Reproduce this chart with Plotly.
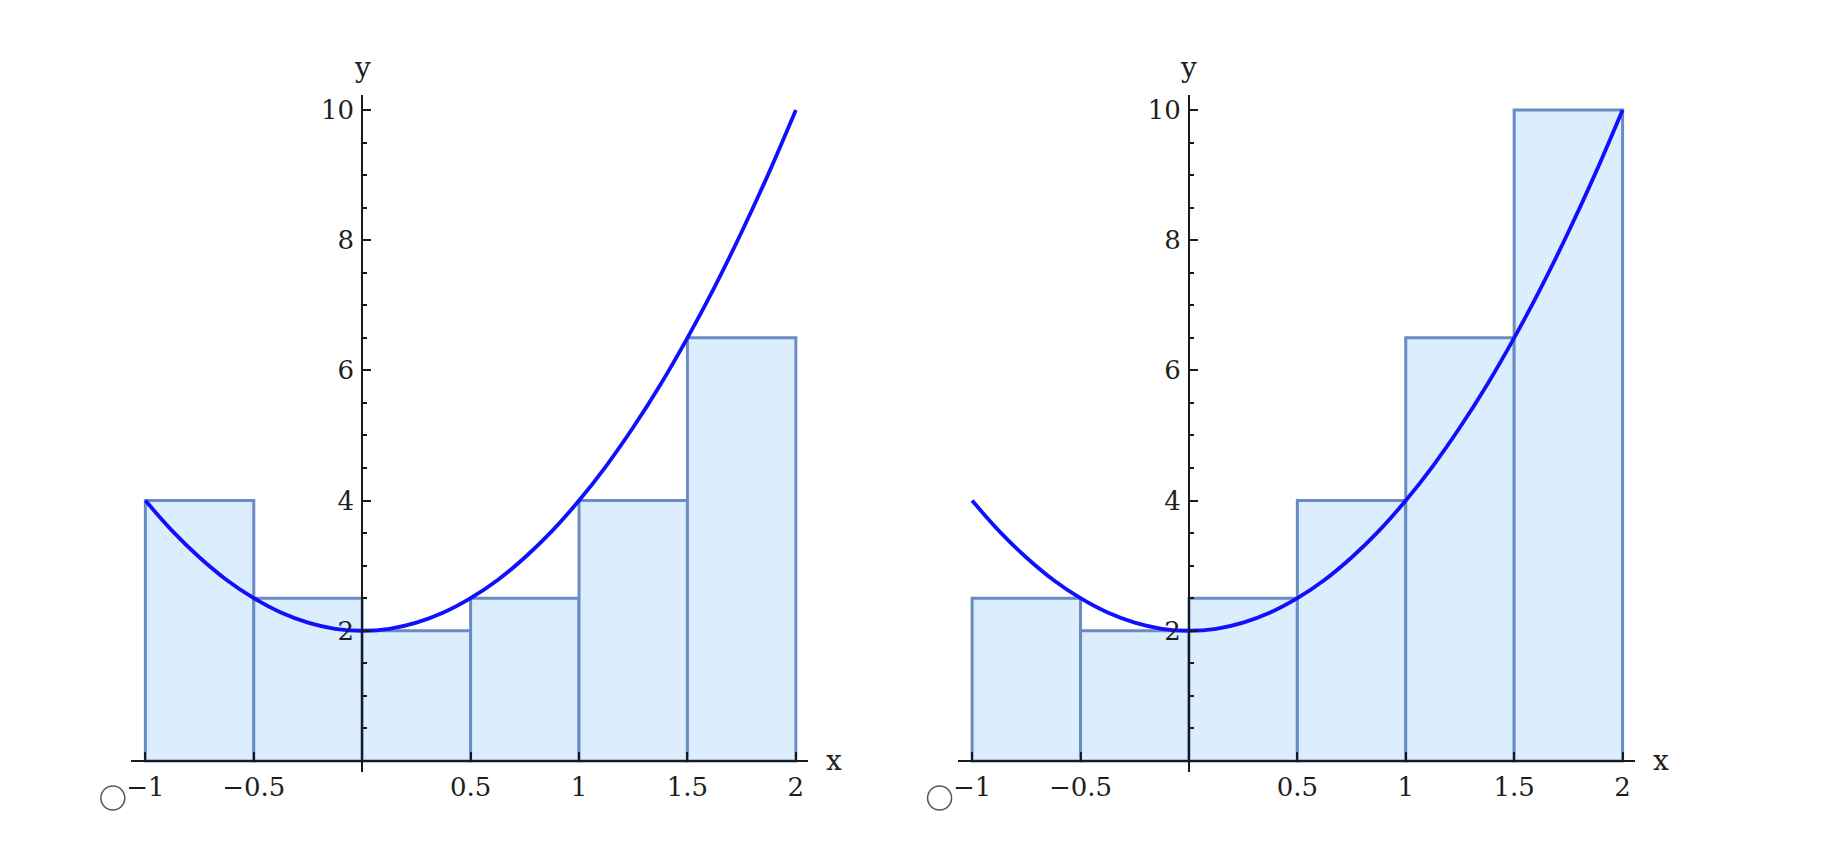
import plotly.graph_objects as go

# ---- data ----
curve_x = [-1, -0.875, -0.75, -0.625, -0.5, -0.375, -0.25, -0.125, 0,
           0.125, 0.25, 0.375, 0.5, 0.625, 0.75, 0.875, 1,
           1.125, 1.25, 1.375, 1.5, 1.625, 1.75, 1.875, 2]
curve_y = [4, 3.53, 3.125, 2.78, 2.5, 2.28, 2.125, 2.03, 2,
           2.03, 2.125, 2.28, 2.5, 2.78, 3.125, 3.53, 4,
           4.53, 5.125, 5.78, 6.5, 7.28, 8.125, 9.03, 10]
bar_left_edges = [-1, -0.5, 0, 0.5, 1, 1.5]
bar_width = 0.5
left_heights = [4, 2.5, 2, 2.5, 4, 6.5]
right_heights = [2.5, 2, 2.5, 4, 6.5, 10]
x_tickvals = [-1, -0.5, 0.5, 1, 1.5, 2]
x_ticktext = ["\u22121", "\u22120.5", "0.5", "1", "1.5", "2"]
y_tickvals = [2, 4, 6, 8, 10]
y_ticktext = ["2", "4", "6", "8", "10"]

# ---- style ----
W, H = 1838, 848
OFFX, OFFY = 12, 9
x_range = [-1.065, 2.058]
y_range = [-0.17, 10.23]
y_dom = [1 - (773 - OFFY) / H, 1 - (96 - OFFY) / H]
x_doms = [[(130.6 - OFFX) / W, (809.6 - OFFX) / W], [(959.6 - OFFX) / W, (1638.6 - OFFX) / W]]
FONT = "DejaVu Serif"
TXT = "#1e1e1e"
AX = "#1a1a1a"
BAR_FILL = "#dcedfd"
BAR_LINE = "#6a8cc2"
CURVE = "#1010ff"

fig = go.Figure()

def pos_in_domain(v, rng, dom):
    return dom[0] + (v - rng[0]) / (rng[1] - rng[0]) * (dom[1] - dom[0])

for i, heights in enumerate([left_heights, right_heights]):
    n = "" if i == 0 else "2"
    xa, ya = "x" + n, "y" + n
    fig.add_trace(go.Bar(x=bar_left_edges, y=heights, width=bar_width, offset=0,
                         marker=dict(color=BAR_FILL, line=dict(color=BAR_LINE, width=3)),
                         xaxis=xa, yaxis=ya, showlegend=False, hoverinfo="skip"))
    fig.add_trace(go.Scatter(x=curve_x, y=curve_y, mode="lines",
                             line=dict(color=CURVE, width=3.8, shape="spline"),
                             xaxis=xa, yaxis=ya, showlegend=False, hoverinfo="skip"))
    xdom = x_doms[i]
    x_axis_pos = pos_in_domain(0, y_range, y_dom)
    y_axis_pos = pos_in_domain(0, x_range, xdom)
    xkey = "xaxis" + n
    ykey = "yaxis" + n
    fig.update_layout(**{
        xkey: dict(domain=xdom, range=x_range, anchor="free", position=x_axis_pos,
                   showline=True, linecolor=AX, linewidth=2, showgrid=False, zeroline=False,
                   ticks="inside", ticklen=8, tickwidth=1.8, tickcolor=AX,
                   tickvals=x_tickvals, ticktext=x_ticktext,
                   tickfont=dict(family=FONT, size=26, color=TXT), ticklabelstandoff=3,
                   fixedrange=True),
        ykey: dict(domain=y_dom, range=y_range, anchor="free", position=y_axis_pos,
                   showline=True, linecolor=AX, linewidth=2, showgrid=False, zeroline=False,
                   ticks="inside", ticklen=8, tickwidth=1.8, tickcolor=AX,
                   tickvals=y_tickvals, ticktext=y_ticktext,
                   minor=dict(dtick=0.5, tick0=0, ticks="inside", ticklen=4, tickwidth=1.5, tickcolor=AX),
                   tickfont=dict(family=FONT, size=26, color=TXT), ticklabelstandoff=2,
                   fixedrange=True),
    })
    fig.add_annotation(text="x", xref=xa + " domain", x=1, yref=ya, y=0,
                       xanchor="left", yanchor="middle", xshift=16, showarrow=False,
                       font=dict(family=FONT, size=28, color=TXT))
    fig.add_annotation(text="y", xref=xa, x=0, yref=ya + " domain", y=1,
                       xanchor="center", yanchor="bottom", yshift=9, showarrow=False,
                       font=dict(family=FONT, size=28, color=TXT))
    # radio-button style circle at the lower left of each panel
    cx = xdom[0] - 18.5 / W
    cy = 1 - (799 - OFFY) / H
    fig.add_shape(type="circle", xref="paper", yref="paper",
                  x0=cx - 12 / W, x1=cx + 12 / W, y0=cy - 12 / H, y1=cy + 12 / H,
                  line=dict(color="#555555", width=1.5), fillcolor="white")

fig.update_layout(width=W, height=H, margin=dict(l=0, r=0, t=0, b=0),
                  plot_bgcolor="white", paper_bgcolor="white", barmode="overlay")

fig.write_html("out.html")
